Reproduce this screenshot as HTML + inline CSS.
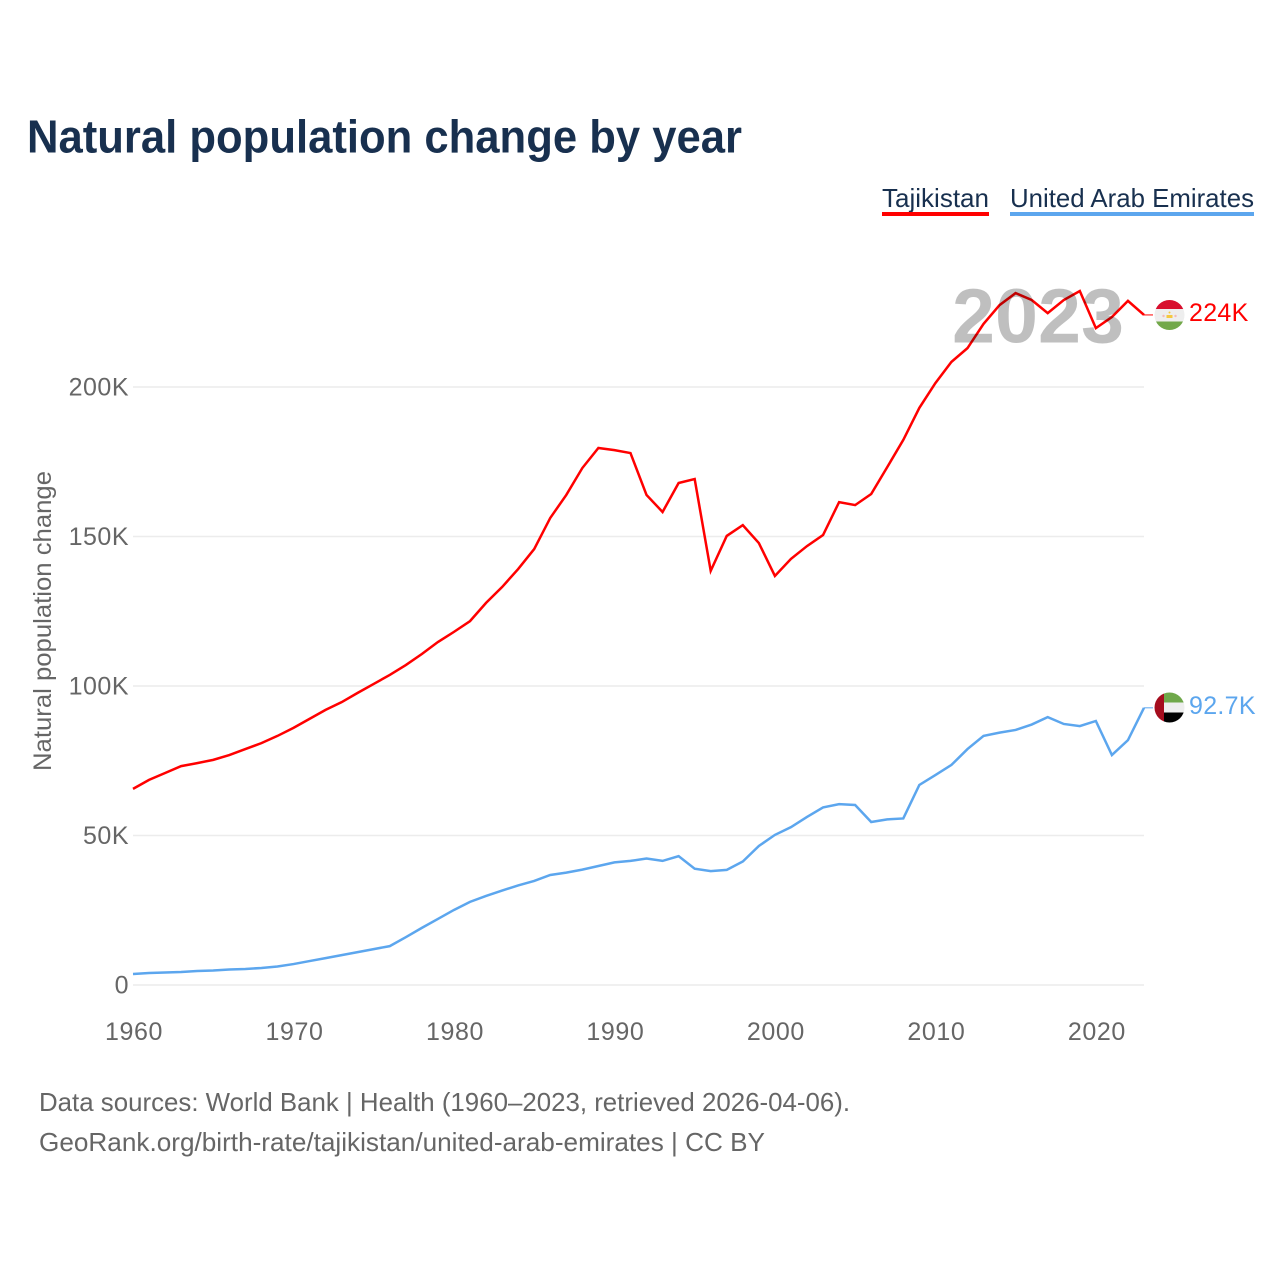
<!DOCTYPE html>
<html lang="en">
<head>
<meta charset="utf-8">
<title>Natural population change by year</title>
<style>
html,body{margin:0;padding:0;background:#fff;width:1280px;height:1280px;overflow:hidden}
svg{display:block;font-family:"Liberation Sans",sans-serif}
</style>
</head>
<body>
<svg id="chart" width="1280" height="1280" viewBox="0 0 1280 1280" xmlns="http://www.w3.org/2000/svg">
  <defs>
    <clipPath id="clip-tj"><circle cx="1169.5" cy="315" r="15"></circle></clipPath>
    <clipPath id="clip-ae"><circle cx="1169.5" cy="707.5" r="15"></circle></clipPath>
  </defs>
  <rect width="1280" height="1280" fill="#fff"></rect>

  <text x="27" y="152.5" font-size="46" font-weight="700" fill="#18304f" textLength="715" lengthAdjust="spacingAndGlyphs">Natural population change by year</text>

  <g>
    <g>
      <text x="882" y="207" font-size="26" fill="#18304f" textLength="107" lengthAdjust="spacingAndGlyphs">Tajikistan</text>
      <rect x="882" y="212" width="107" height="4" fill="#ff0000"></rect>
    </g>
    <g>
      <text x="1010" y="207" font-size="26" fill="#18304f" textLength="244" lengthAdjust="spacingAndGlyphs">United Arab Emirates</text>
      <rect x="1010" y="212" width="244" height="4" fill="#5ca6ee"></rect>
    </g>
  </g>

  <text transform="translate(51 621) rotate(-90)" text-anchor="middle" font-size="25" fill="#666" textLength="300" lengthAdjust="spacingAndGlyphs">Natural population change</text>

  <g id="grid"></g>
  <g id="y-labels"></g>
  <g id="x-labels"></g>
  <g id="series"></g>

  <text x="952" y="342.5" font-size="77" font-weight="700" fill="#000" fill-opacity="0.25" textLength="172" lengthAdjust="spacingAndGlyphs">2023</text>

  <g id="flag-tj" clip-path="url(#clip-tj)">
    <rect x="1154" y="300" width="31" height="9" fill="#d80f2e"></rect>
    <rect x="1154" y="309" width="31" height="13" fill="#eeeeee"></rect>
    <rect x="1154" y="321.5" width="31" height="9" fill="#72a84a"></rect>
    <rect x="1166.5" y="315" width="6" height="3" fill="#f5c842"></rect>
    <circle cx="1163.5" cy="316" r="1.2" fill="#f3b9b9"></circle>
    <circle cx="1175.5" cy="316" r="1.2" fill="#f3b9b9"></circle>
    <circle cx="1169.5" cy="312.5" r="1" fill="#f5c842"></circle>
  </g>
  <g id="flag-ae" clip-path="url(#clip-ae)">
    <rect x="1164" y="692" width="21" height="10.5" fill="#6fa84a"></rect>
    <rect x="1164" y="702.5" width="21" height="10" fill="#eeeeee"></rect>
    <rect x="1164" y="712.5" width="21" height="11" fill="#000000"></rect>
    <rect x="1154" y="692" width="10" height="31" fill="#a50d1e"></rect>
  </g>

  <g id="footer" font-size="26" fill="#666">
    <text x="39" y="1111" textLength="811" lengthAdjust="spacingAndGlyphs">Data sources: World Bank | Health (1960–2023, retrieved 2026-04-06).</text>
    <text x="39" y="1151" textLength="726" lengthAdjust="spacingAndGlyphs">GeoRank.org/birth-rate/tajikistan/united-arab-emirates | CC BY</text>
  </g>
</svg>
<script>
const years = [1960,1961,1962,1963,1964,1965,1966,1967,1968,1969,1970,1971,1972,1973,1974,1975,1976,1977,1978,1979,1980,1981,1982,1983,1984,1985,1986,1987,1988,1989,1990,1991,1992,1993,1994,1995,1996,1997,1998,1999,2000,2001,2002,2003,2004,2005,2006,2007,2008,2009,2010,2011,2012,2013,2014,2015,2016,2017,2018,2019,2020,2021,2022,2023];
const tajikistan = [65.6,68.6,70.9,73.2,74.2,75.3,76.9,78.9,80.9,83.3,86.0,89.0,92.0,94.6,97.7,100.7,103.7,107.0,110.7,114.7,118.1,121.7,127.8,133.1,139.1,145.8,156.2,163.9,172.9,179.6,178.9,177.9,163.9,158.2,167.9,169.2,138.5,150.2,153.8,147.8,136.8,142.5,146.8,150.5,161.5,160.5,164.2,173.2,182.3,193.0,201.3,208.4,213.0,221.1,227.4,231.4,229.1,224.7,229.1,232.1,219.7,223.4,228.8,224.1];
const uae = [3.68,4.0,4.2,4.35,4.7,4.85,5.2,5.35,5.7,6.2,7.0,8.0,9.0,10.0,11.0,12.0,13.0,16.0,19.1,22.1,25.1,27.8,29.8,31.6,33.3,34.8,36.8,37.6,38.6,39.8,41.0,41.5,42.3,41.5,43.1,38.9,38.1,38.5,41.3,46.5,50.2,52.8,56.2,59.4,60.5,60.2,54.5,55.4,55.7,66.9,70.2,73.6,78.9,83.3,84.4,85.3,87.1,89.6,87.3,86.6,88.3,76.9,81.9,92.7];
const yTicks = [0,50,100,150,200];
const yTickLabels = ["0","50K","100K","150K","200K"];
const xTicks = [1960,1970,1980,1990,2000,2010,2020];
const endLabels = ["224K","92.7K"];

const NS = "http://www.w3.org/2000/svg";
const X = function (year) { return 133 + (year - 1960) * (1144 - 133) / (2023 - 1960); };
const Y = function (v) { return 985 - v * 2.99; };

function make(tag, attrs, parent, text) {
  const el = document.createElementNS(NS, tag);
  Object.keys(attrs).forEach(function (k) { el.setAttribute(k, attrs[k]); });
  if (text !== undefined) el.textContent = text;
  parent.appendChild(el);
  return el;
}

const gridG = document.getElementById("grid");
const yLabG = document.getElementById("y-labels");
yTicks.forEach(function (t, i) {
  const line = make("line", {x1: 133, x2: 1144, y1: Y(t), y2: Y(t), stroke: "#ececec", "stroke-width": 1.5}, gridG);
  
  
  const lab = make("text", {x: 129, y: Y(t) + 8.5, "text-anchor": "end", "font-size": 25, "letter-spacing": 0.5, fill: "#666"}, yLabG, yTickLabels[i]);
  
  
});

const xLabG = document.getElementById("x-labels");
xTicks.forEach(function (t) {
  const lab = make("text", {x: X(t) + 1, y: 1040, "text-anchor": "middle", "font-size": 25, "letter-spacing": 0.6, fill: "#666"}, xLabG, String(t));
  
  
});

const seriesG = document.getElementById("series");
function drawSeries(values, color, name, label) {
  const pts = values.map(function (v, i) { return X(years[i]).toFixed(2) + "," + Y(v).toFixed(2); }).join(" ");
  const line = make("polyline", {points: pts, fill: "none", stroke: color, "stroke-width": 2.5, "stroke-linejoin": "miter"}, seriesG);
  
  
  const last = values[values.length - 1];
  const lastX = X(years[years.length - 1]);
  const lead = make("line", {x1: lastX, x2: lastX + 9, y1: Y(last), y2: Y(last), stroke: color, "stroke-width": 1}, seriesG);
  
  
  const txt = make("text", {x: 1189, y: Y(last) + 6, "font-size": 25, "letter-spacing": 0.3, fill: color}, seriesG, label);
  
  
}
drawSeries(tajikistan, "#ff0000", "tajikistan", endLabels[0]);
drawSeries(uae, "#5ca6ee", "uae", endLabels[1]);
</script>
</body>
</html>
